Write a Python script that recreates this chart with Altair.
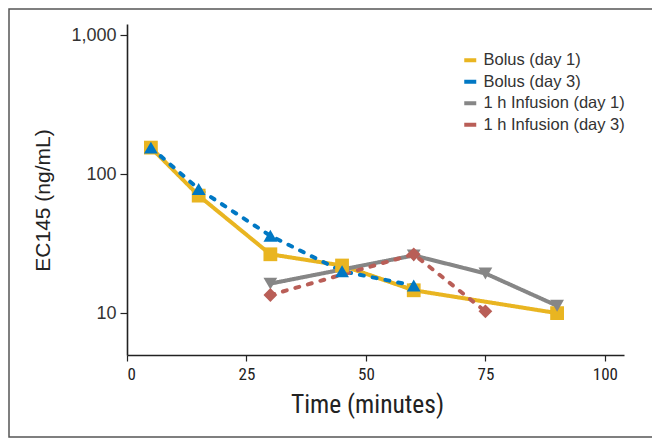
import altair as alt
import pandas as pd

series_names = ["Bolus (day 1)", "Bolus (day 3)", "1 h Infusion (day 1)", "1 h Infusion (day 3)"]
series_colors = ["#E9B521", "#0078C4", "#868686", "#B95E57"]
series_shapes = ["square", "triangle-up", "triangle-down", "diamond"]
series_dash = ["solid", "dashed", "solid", "dashed"]

time_b1 = [5, 15, 30, 45, 60, 90]
conc_b1 = [155, 70, 26.5, 22, 14.6, 10]
time_b3 = [5, 15, 30, 45, 60]
conc_b3 = [155, 78, 36, 20, 15.8]
time_i1 = [30, 60, 75, 90]
conc_i1 = [16.3, 26, 19.3, 11.3]
time_i3 = [30, 60, 75]
conc_i3 = [13.5, 26.5, 10.3]

x_ticks = [0, 25, 50, 75, 100]
y_ticks = [10, 100, 1000]

rows = []
for name, dash, ts, cs in zip(series_names, series_dash,
                              [time_b1, time_b3, time_i1, time_i3],
                              [conc_b1, conc_b3, conc_i1, conc_i3]):
    for t, c in zip(ts, cs):
        rows.append({"series": name, "series_pt": name, "dash": dash, "time": t, "conc": c})
df = pd.DataFrame(rows)

W, H = 497, 331
NARROW = "Liberation Sans Narrow, Roboto Condensed, DejaVu Sans Condensed, sans-serif"
SANS = "Liberation Sans, Arial, sans-serif"

x = alt.X("time:Q", scale=alt.Scale(domain=[0, 104], nice=False, zero=False),
          axis=alt.Axis(values=x_ticks, title="Time (minutes)", grid=False,
                        labelFont=NARROW, labelFontSize=17, labelColor="#222", labelPadding=5,
                        titleFont=NARROW, titleFontSize=25.5, titleFontWeight="normal",
                        titleColor="#222", titlePadding=10, titleX=240,
                        domainColor="#222", domainWidth=1.6, tickColor="#222",
                        tickWidth=1.2, tickSize=6))
y = alt.Y("conc:Q", scale=alt.Scale(type="log", domain=[5, 1200], nice=False),
          axis=alt.Axis(values=y_ticks, format=",", title="EC145 (ng/mL)", grid=False,
                        labelFont=SANS, labelFontSize=18, labelColor="#333", labelPadding=4,
                        titleFont=SANS, titleFontSize=21, titleFontWeight="normal",
                        titleColor="#222", titlePadding=17, titleY=176,
                        domainColor="#222", domainWidth=1.6, tickColor="#222",
                        tickWidth=1.2, tickSize=7))

color_scale = alt.Scale(domain=series_names, range=series_colors)

lines = alt.Chart(df).mark_line(strokeWidth=4, strokeCap="round").encode(
    x=x, y=y,
    color=alt.Color("series:N", scale=color_scale,
                    legend=alt.Legend(title=None, orient="none", legendX=335, legendY=28,
                                      symbolType="stroke", symbolStrokeWidth=4,
                                      symbolSize=144, labelFontSize=16.5,
                                      labelFont=SANS, labelColor="#333", labelOffset=5,
                                      rowPadding=4.5, padding=0, symbolDash=[1, 0])),
    strokeDash=alt.StrokeDash("dash:N", scale=alt.Scale(domain=["solid", "dashed"],
                                                        range=[[1, 0], [4, 9]]),
                              legend=None),
    detail="series:N",
)

points = alt.Chart(df).mark_point(filled=True, opacity=1, size=190).encode(
    x=x, y=y,
    fill=alt.Fill("series_pt:N", scale=alt.Scale(domain=series_names, range=series_colors),
                  legend=None),
    shape=alt.Shape("series_pt:N", scale=alt.Scale(domain=series_names, range=series_shapes),
                    legend=None),
)

frame = alt.Chart(pd.DataFrame({"a": [0]})).mark_rect(
    fill=None, stroke="#555", strokeWidth=1.5, clip=False
).encode(x=alt.value(-118), x2=alt.value(700), y=alt.value(-15), y2=alt.value(413))

chart = alt.layer(frame, lines, points).properties(
    width=W, height=H,
    autosize=alt.AutoSizeParams(type="none"),
    padding={"left": 119, "top": 16, "right": 28, "bottom": 83},
).resolve_scale(color="independent").configure_view(stroke=None)

chart.save("out.html", embed_options={"renderer": "svg", "actions": False})
